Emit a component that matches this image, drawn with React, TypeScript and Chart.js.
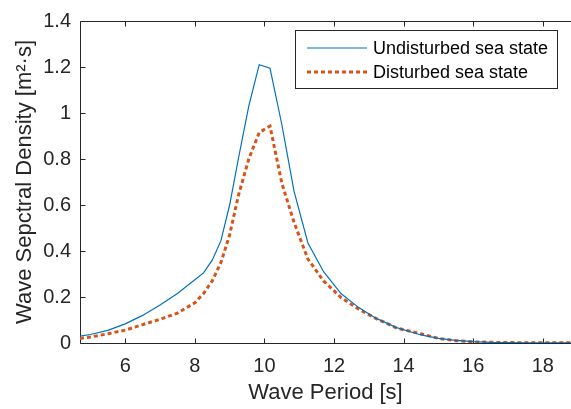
import React, { useEffect, useRef } from 'react';
import { Chart, registerables } from 'chart.js';

Chart.register(...registerables);

const PERIODS = [4.7, 5.0, 5.5, 6.0, 6.5, 7.0, 7.5, 8.0, 8.25, 8.5, 8.75, 9.0, 9.25, 9.55, 9.85, 10.16, 10.5, 10.85, 11.25, 11.7, 12.2, 12.7, 13.2, 13.8, 14.5, 15.0, 15.5, 16.0, 16.5, 17.0, 17.5, 18.0, 18.5, 18.8];
const UNDISTURBED = [0.03, 0.037, 0.055, 0.083, 0.12, 0.165, 0.215, 0.275, 0.305, 0.36, 0.445, 0.6, 0.8, 1.03, 1.21, 1.195, 0.95, 0.66, 0.435, 0.31, 0.215, 0.155, 0.108, 0.067, 0.035, 0.02, 0.011, 0.006, 0.003, 0.002, 0.001, 0.001, 0.0005, 0.0004];
const DISTURBED = [0.02, 0.026, 0.04, 0.056, 0.08, 0.103, 0.13, 0.175, 0.215, 0.27, 0.35, 0.47, 0.64, 0.8, 0.915, 0.943, 0.695, 0.525, 0.365, 0.27, 0.198, 0.148, 0.107, 0.065, 0.04, 0.02, 0.01, 0.005, 0.003, 0.002, 0.001, 0.001, 0.001, 0.001];
const X_TICKS = [6, 8, 10, 12, 14, 16, 18];
const Y_TICKS = [0, 0.2, 0.4, 0.6, 0.8, 1, 1.2, 1.4];
const SERIES_LABELS = ['Undisturbed sea state', 'Disturbed sea state'];
const X_TITLE = 'Wave Period [s]';
const Y_TITLE = 'Wave Sepctral Density [m²·s]';

const FONT = "'Liberation Sans', Arial, Helvetica, sans-serif";
const AXIS_COLOR = '#262626';
const BLUE = '#0072BD';
const ORANGE = '#D95319';

const axesPlugin = {
  id: 'matlabAxes',
  beforeDatasetsDraw(chart: any) {
    const { ctx, chartArea } = chart;
    const { left, right, top, bottom } = chartArea;
    const x = chart.scales.x;
    const y = chart.scales.y;
    const tl = 5;
    ctx.save();
    ctx.strokeStyle = AXIS_COLOR;
    ctx.lineWidth = 1;
    ctx.beginPath();
    const t = Math.round(top) + 0.5;
    const b = Math.round(bottom) + 0.5;
    const l = Math.round(left) + 0.5;
    ctx.moveTo(l, t);
    ctx.lineTo(right, t);
    ctx.moveTo(l, t);
    ctx.lineTo(l, b);
    ctx.lineTo(right, b);
    X_TICKS.forEach((v) => {
      const px = Math.round(x.getPixelForValue(v)) + 0.5;
      ctx.moveTo(px, b);
      ctx.lineTo(px, b - tl);
      ctx.moveTo(px, t);
      ctx.lineTo(px, t + tl);
    });
    Y_TICKS.forEach((v) => {
      const py = Math.round(y.getPixelForValue(v)) + 0.5;
      ctx.moveTo(l, py);
      ctx.lineTo(l + tl, py);
    });
    ctx.stroke();
    ctx.restore();
  },
};

const legendPlugin = {
  id: 'boxLegend',
  afterDraw(chart: any) {
    const { ctx } = chart;
    const bx = 295.5, by = 30.5, bw = 262, bh = 58;
    ctx.save();
    ctx.fillStyle = '#ffffff';
    ctx.fillRect(bx, by, bw, bh);
    ctx.strokeStyle = AXIS_COLOR;
    ctx.lineWidth = 1;
    ctx.strokeRect(bx, by, bw, bh);
    const rows = [48, 72];
    chart.data.datasets.forEach((ds: any, i: number) => {
      const yy = rows[i];
      ctx.beginPath();
      ctx.strokeStyle = ds.borderColor;
      ctx.lineWidth = ds.borderWidth;
      ctx.setLineDash(ds.borderDash || []);
      ctx.moveTo(307, yy);
      ctx.lineTo(367, yy);
      ctx.stroke();
      ctx.setLineDash([]);
      ctx.fillStyle = '#000000';
      ctx.font = `18px ${FONT}`;
      ctx.textBaseline = 'middle';
      ctx.textAlign = 'left';
      ctx.fillText(ds.label, 373, yy + 1);
    });
    ctx.restore();
  },
};

export default function App() {
  const ref = useRef<HTMLCanvasElement>(null);
  useEffect(() => {
    if (!ref.current) return;
    const chart = new Chart(ref.current, {
      type: 'line',
      data: {
        datasets: [
          {
            label: SERIES_LABELS[0],
            data: PERIODS.map((p, i) => ({ x: p, y: UNDISTURBED[i] })),
            borderColor: BLUE,
            borderWidth: 1.2,
            pointRadius: 0,
            tension: 0,
            fill: false,
          },
          {
            label: SERIES_LABELS[1],
            data: PERIODS.map((p, i) => ({ x: p, y: DISTURBED[i] })),
            borderColor: ORANGE,
            borderWidth: 3,
            borderDash: [4, 3],
            pointRadius: 0,
            tension: 0,
            fill: false,
          },
        ],
      },
      options: {
        animation: false,
        responsive: false,
        layout: { padding: { top: 10, left: 0, right: 0, bottom: 0 } },
        plugins: { legend: { display: false }, tooltip: { enabled: false } },
        scales: {
          x: {
            type: 'linear',
            min: 4.7,
            max: 18.81,
            afterFit: (s: any) => { s.height = 66; },
            afterBuildTicks: (s: any) => { s.ticks = X_TICKS.map((v) => ({ value: v })); },
            grid: { display: false, drawTicks: false },
            border: { display: false },
            ticks: {
              color: AXIS_COLOR,
              font: { family: FONT, size: 20 },
              padding: 11,
              maxRotation: 0,
              callback: (v: any) => String(v),
            },
            title: {
              display: true,
              text: X_TITLE,
              color: AXIS_COLOR,
              font: { family: FONT, size: 22 },
              padding: { top: 0, bottom: 3 },
            },
          },
          y: {
            type: 'linear',
            min: 0,
            max: 1.4,
            afterFit: (s: any) => { s.width = 80; },
            afterBuildTicks: (s: any) => { s.ticks = Y_TICKS.map((v) => ({ value: v })); },
            grid: { display: false, drawTicks: false },
            border: { display: false },
            ticks: {
              color: AXIS_COLOR,
              font: { family: FONT, size: 20 },
              padding: 9,
              callback: (v: any) => String(Math.round(Number(v) * 10) / 10),
            },
            title: {
              display: true,
              text: Y_TITLE,
              color: AXIS_COLOR,
              font: { family: FONT, size: 22 },
              padding: { top: 12, bottom: 0 },
            },
          },
        },
      },
      plugins: [axesPlugin, legendPlugin],
    });
    return () => chart.destroy();
  }, []);
  return (
    <div style={{ position: 'fixed', left: 0, top: 0, width: 571, height: 409, background: '#fff' }}>
      <canvas ref={ref} width={571} height={409} style={{ display: 'block' }} />
    </div>
  );
}
